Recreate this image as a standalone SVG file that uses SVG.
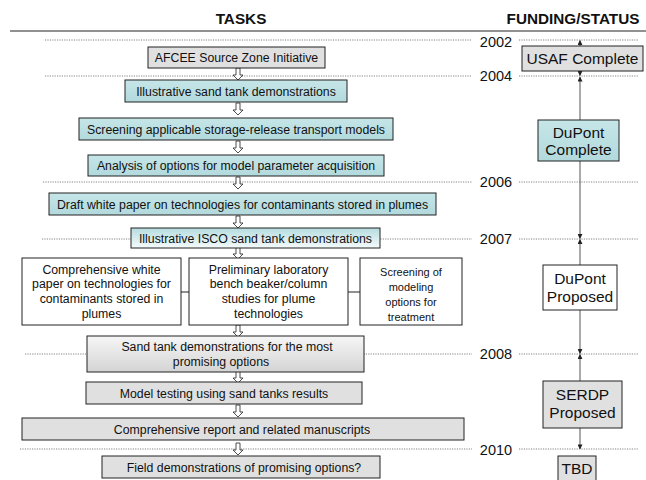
<svg xmlns="http://www.w3.org/2000/svg" width="646" height="480" viewBox="0 0 646 480">
<style>
text{font-family:"Liberation Sans",Arial,sans-serif;fill:#111;text-anchor:middle}
.hd{font-size:15.3px;font-weight:bold}
.t{font-size:12.3px}
.ts{font-size:11px}
.st{font-size:15.5px}
.yr{font-size:14.5px}
.box{stroke:#222;stroke-width:1}
.cy{fill:url(#gc)}
.gr{fill:#e0e0e0}
.wh{fill:#fff}
.dot{stroke:#666;stroke-width:0.8;stroke-dasharray:1.2 1.2;fill:none}
.ba{fill:#fff;stroke:#222;stroke-width:0.8}
.vl{stroke:#555;stroke-width:1;fill:none}
</style>
<defs>
<linearGradient id="gc" x1="0" y1="0" x2="0" y2="1"><stop offset="0" stop-color="#c6e6e8"/><stop offset="1" stop-color="#b2d9dc"/></linearGradient>
<linearGradient id="gi" x1="0" y1="0" x2="0" y2="1"><stop offset="0" stop-color="#b5dcdf"/><stop offset="1" stop-color="#f5fbfb"/></linearGradient>
<linearGradient id="gg" x1="0" y1="0" x2="0" y2="1"><stop offset="0" stop-color="#f6f6f6"/><stop offset="1" stop-color="#d4d4d4"/></linearGradient>
<marker id="ah" viewBox="0 0 6 6" refX="5.5" refY="3" markerWidth="5" markerHeight="5" orient="auto-start-reverse" markerUnits="userSpaceOnUse"><path d="M0,0 L6,3 L0,6 z" fill="#222"/></marker>
<path id="blk" d="M-2,0 H2 V7 H5 L0,12 L-5,7 H-2 Z"/>
</defs>

<g id="header">
<text class="hd" x="241" y="24">TASKS</text>
<text class="hd" x="573" y="24">FUNDING/STATUS</text>
<line x1="10" y1="31" x2="646" y2="31" stroke="#222" stroke-width="1"/>
</g>

<g id="timeline">
<line class="dot" x1="45" y1="40" x2="472" y2="40"/><line class="dot" x1="519" y1="40" x2="638" y2="40"/>
<text class="yr" x="496" y="47">2002</text>
<line class="dot" x1="45" y1="76" x2="472" y2="76"/><line class="dot" x1="519" y1="76" x2="638" y2="76"/>
<text class="yr" x="496" y="81">2004</text>
<line class="dot" x1="43" y1="182" x2="472" y2="182"/><line class="dot" x1="519" y1="182" x2="638" y2="182"/>
<text class="yr" x="496" y="187">2006</text>
<line class="dot" x1="42" y1="239" x2="472" y2="239"/><line class="dot" x1="519" y1="239" x2="638" y2="239"/>
<text class="yr" x="496" y="244">2007</text>
<line class="dot" x1="25" y1="354" x2="472" y2="354"/><line class="dot" x1="519" y1="354" x2="638" y2="354"/>
<text class="yr" x="496" y="359">2008</text>
<line class="dot" x1="20" y1="449" x2="472" y2="449"/><line class="dot" x1="519" y1="449" x2="638" y2="449"/>
<text class="yr" x="496" y="455">2010</text>
</g>

<g id="connectors">
<use href="#blk" class="ba" x="238" y="68"/>
<use href="#blk" class="ba" x="238" y="103"/>
<use href="#blk" class="ba" x="238" y="141"/>
<use href="#blk" class="ba" x="238" y="177"/>
<use href="#blk" class="ba" x="238" y="216"/>
<use href="#blk" class="ba" x="238" y="247"/>
<use href="#blk" class="ba" x="238" y="325"/>
<use href="#blk" class="ba" x="238" y="371"/>
<use href="#blk" class="ba" x="238" y="405"/>
<use href="#blk" class="ba" x="238" y="443"/>
<line x1="181" y1="292" x2="189" y2="292" stroke="#222"/>
<line x1="348" y1="292" x2="360" y2="292" stroke="#222"/>
<line class="vl" x1="580" y1="46" x2="580" y2="40.5" marker-end="url(#ah)"/>
<line class="vl" x1="580" y1="71" x2="580" y2="75.5" marker-end="url(#ah)"/>
<line class="vl" x1="580" y1="120" x2="580" y2="77" marker-end="url(#ah)"/>
<line class="vl" x1="580" y1="161" x2="580" y2="238.5" marker-end="url(#ah)"/>
<line class="vl" x1="580" y1="265" x2="580" y2="239.5" marker-end="url(#ah)"/>
<line class="vl" x1="580" y1="310" x2="580" y2="353.5" marker-end="url(#ah)"/>
<line class="vl" x1="580" y1="381" x2="580" y2="354.5" marker-end="url(#ah)"/>
<line class="vl" x1="580" y1="428" x2="580" y2="449" marker-end="url(#ah)"/>
</g>

<g id="n-afcee"><rect class="box gr" x="148" y="47" width="177" height="21"/><text class="t" x="236.5" y="62">AFCEE Source Zone Initiative</text></g>
<g id="n-illus"><rect class="box cy" x="125" y="80" width="222" height="22"/><text class="t" x="236" y="95.5">Illustrative sand tank demonstrations</text></g>
<g id="n-screen"><rect class="box cy" x="79" y="118" width="314" height="22"/><text class="t" x="236" y="133.5">Screening applicable storage-release transport models</text></g>
<g id="n-analysis"><rect class="box cy" x="88" y="155" width="296" height="21"/><text class="t" x="236" y="170">Analysis of options for model parameter acquisition</text></g>
<g id="n-draft"><rect class="box cy" x="49" y="193" width="387" height="22"/><text class="t" x="242.5" y="208.5">Draft white paper on technologies for contaminants stored in plumes</text></g>
<g id="n-isco"><rect class="box" fill="url(#gi)" x="131" y="228" width="249" height="20"/><text class="t" x="255.5" y="242.5">Illustrative ISCO sand tank demonstrations</text></g>
<g id="n-compwhite"><rect class="box wh" x="22" y="258" width="159" height="67"/>
<text class="t" x="101.5" y="273.5">Comprehensive white</text><text class="t" x="101.5" y="288.3">paper on technologies for</text><text class="t" x="101.5" y="303.1">contaminants stored in</text><text class="t" x="101.5" y="317.9">plumes</text></g>
<g id="n-prelim"><rect class="box wh" x="189" y="258" width="159" height="67"/>
<text class="t" x="268.5" y="273.5">Preliminary laboratory</text><text class="t" x="268.5" y="288.3">bench beaker/column</text><text class="t" x="268.5" y="303.1">studies for plume</text><text class="t" x="268.5" y="317.9">technologies</text></g>
<g id="n-screenmod"><rect class="box wh" x="360" y="258" width="102" height="67"/>
<text class="ts" x="411" y="276">Screening of</text><text class="ts" x="411" y="291">modeling</text><text class="ts" x="411" y="306">options for</text><text class="ts" x="411" y="321">treatment</text></g>
<g id="n-sandtank"><rect class="box" fill="url(#gg)" x="87" y="336" width="277" height="36"/>
<text class="t" x="227" y="351">Sand tank demonstrations for the most</text><text class="t" x="221" y="366">promising options</text></g>
<g id="n-model"><rect class="box gr" x="86" y="382" width="276" height="22"/><text class="t" x="224" y="397.5">Model testing using sand tanks results</text></g>
<g id="n-report"><rect class="box gr" x="22" y="418" width="442" height="22"/><text class="t" x="242" y="433.5">Comprehensive report and related manuscripts</text></g>
<g id="n-field"><rect class="box gr" x="102" y="456" width="278" height="22"/><text class="t" x="244" y="471.5">Field demonstrations of promising options?</text></g>

<g id="s-usaf"><rect class="box gr" x="522" y="46" width="121" height="25"/><text class="st" x="582.5" y="64">USAF Complete</text></g>
<g id="s-dupontc"><rect class="box cy" x="538" y="120" width="81" height="41"/><text class="st" x="578.5" y="138">DuPont</text><text class="st" x="578.5" y="155">Complete</text></g>
<g id="s-dupontp"><rect class="box wh" x="543" y="265" width="74" height="45"/><text class="st" x="580" y="284">DuPont</text><text class="st" x="580" y="302">Proposed</text></g>
<g id="s-serdp"><rect class="box gr" x="543" y="381" width="79" height="47"/><text class="st" x="582.5" y="400">SERDP</text><text class="st" x="582.5" y="418">Proposed</text></g>
<g id="s-tbd"><rect class="box gr" x="558" y="456" width="38" height="30"/><text class="st" x="577" y="474">TBD</text></g>
</svg>
